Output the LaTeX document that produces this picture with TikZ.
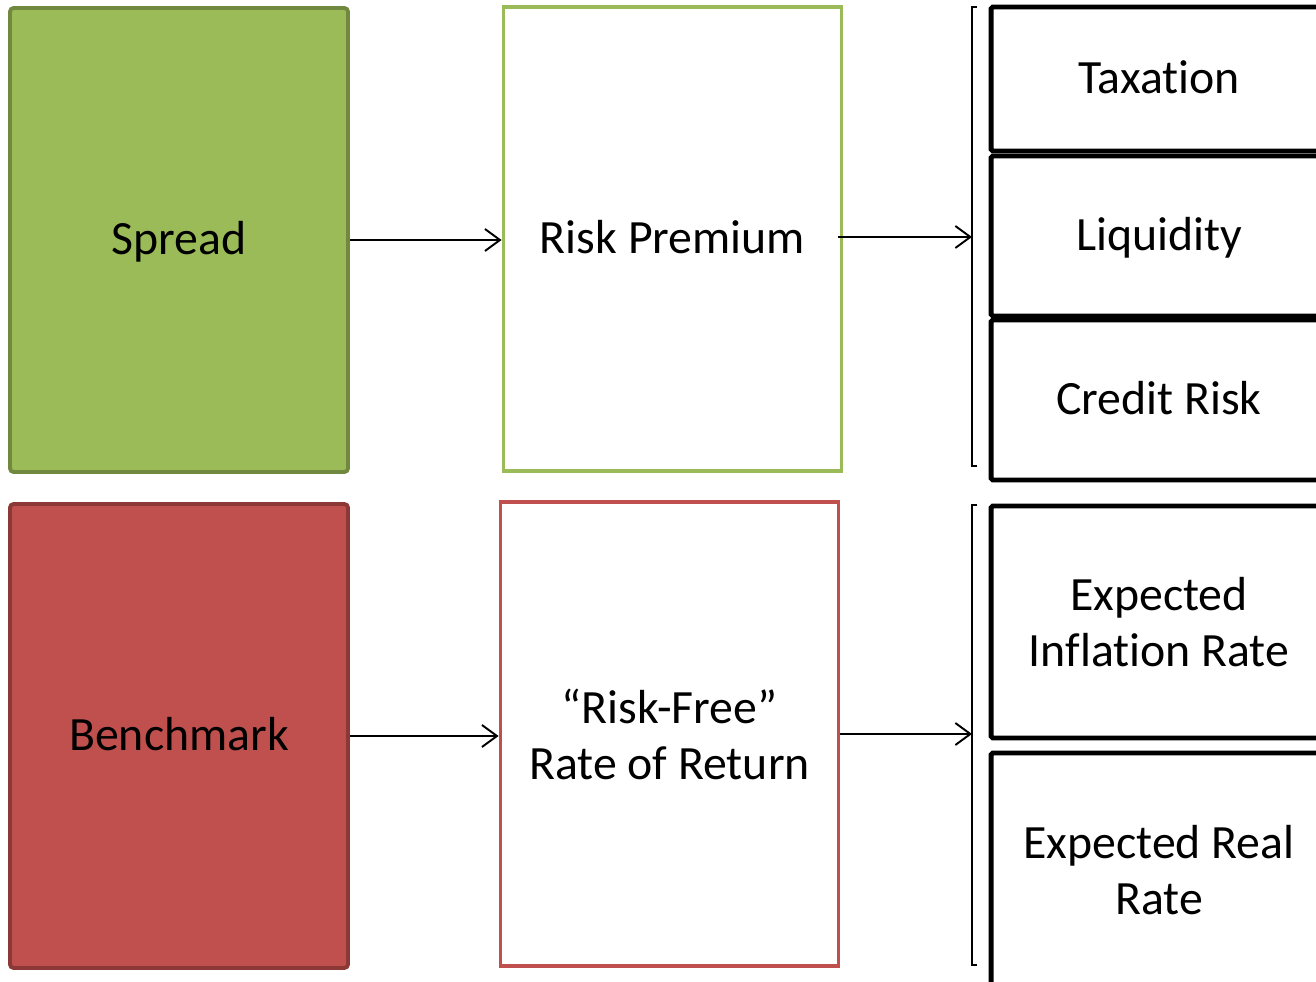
\documentclass[tikz,border=0pt]{standalone}
\usepackage{fontspec}
\setmainfont{Carlito}[RawFeature={-liga;-clig;-calt;-rlig}]
\usepackage{tikz}
\usepackage{xcolor}
\usetikzlibrary{arrows.meta, positioning, calc}
\definecolor{cGreen}{HTML}{9BBB59}
\definecolor{cGreenDark}{HTML}{71893F}
\definecolor{cRed}{HTML}{C0504D}
\definecolor{cRedDark}{HTML}{8C3836}
\tikzset{
	bigbox/.style   ={rectangle, minimum width=6.76cm, minimum height=9.28cm, align=center, line width=2.2pt},
	filledbox/.style={bigbox, rounded corners=2pt},
	factor/.style   ={rectangle, draw=black, line width=2.8pt, minimum width=6.72cm, align=center, rounded corners=1pt},
	oneline/.style  ={text height=16pt, text depth=0pt},
	flowarrow/.style={-{Straight Barb[length=3mm, width=4.4mm]}, line width=1.1pt},
	bracket/.style  ={line width=1.1pt},
}
\begin{document}
\begin{tikzpicture}[x=0.02cm, y=-0.02cm, every node/.style={font=\fontsize{27.2}{31.9}\selectfont}]
	\useasboundingbox (0,0) rectangle (1316,982);
	\clip (0,0) rectangle (1316,982);
	% left column
	\node[filledbox, oneline, draw=cGreenDark, fill=cGreen] (spread) at (179,240) {Spread};
	\node[filledbox, oneline, draw=cRedDark, fill=cRed] (bench) at (179,736) {Benchmark};
	% middle column
	\node[bigbox, oneline, draw=cGreen, fill=white] (prem) at (672.5,239) {Risk Premium};
	\node[bigbox, draw=cRed, fill=white] (rfree) at (669.5,734) {“Risk-Free”\\Rate of Return};
	% components
	\node[factor, oneline, minimum height=2.88cm] (tax) at (1159,79) {Taxation};
	\node[factor, oneline, minimum height=3.2cm] (liq) at (1159,236) {Liquidity};
	\node[factor, oneline, minimum height=3.2cm] (cred) at (1159,400) {Credit Risk};
	\node[factor, minimum height=4.64cm] (infl) at (1159,622) {Expected\\Inflation Rate};
	\node[factor, minimum height=4.68cm] (real) at (1159,870) {Expected Real\\Rate};
	% brackets
	\coordinate (brkA) at (972,237);
	\coordinate (brkB) at (972,734);
	\draw[bracket] (977,7) -- (972,7) -- (972,466) -- (977,466);
	\draw[bracket] (977,505) -- (972,505) -- (972,965) -- (977,965);
	% arrows
	\draw[flowarrow] (spread.east) -- (spread.east -| prem.west);
	\draw[flowarrow] (bench.east) -- (bench.east -| rfree.west);
	\draw[flowarrow] ([xshift=-0.1cm]prem.east |- brkA) -- (brkA);
	\draw[flowarrow] (rfree.east) -- (brkB);
\end{tikzpicture}
\end{document}
